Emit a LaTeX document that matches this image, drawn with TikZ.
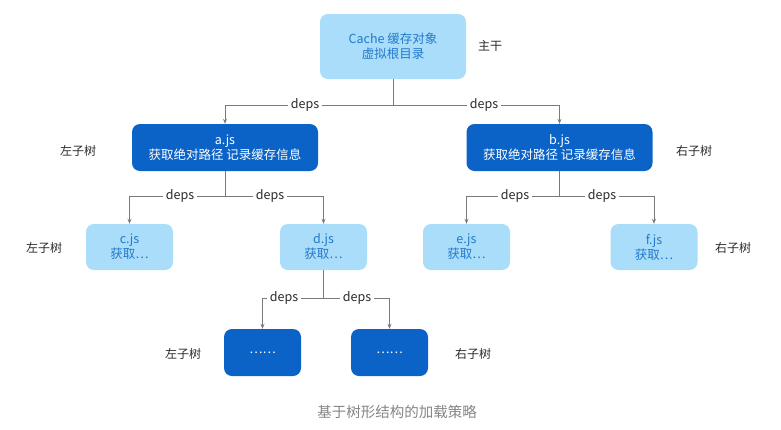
\documentclass[tikz,border=0pt]{standalone}
\usepackage{fontspec}
\setmainfont{Noto Sans CJK SC}
\usetikzlibrary{arrows.meta}
\definecolor{lightbox}{HTML}{A9DDF9}
\definecolor{lighttext}{HTML}{2479CC}
\definecolor{darkbox}{HTML}{0B63C8}
\definecolor{linegray}{HTML}{7A7A7A}
\definecolor{labeltext}{HTML}{2A2A2A}
\definecolor{captiongray}{HTML}{858585}
\begin{document}
\begin{tikzpicture}[x=1pt,y=-1pt,
  lightnode/.style={draw=none,fill=lightbox,rounded corners=8pt,text=lighttext,align=center,font=\fontsize{12.5}{15}\selectfont,inner sep=0pt},
  darknode/.style={draw=none,fill=darkbox,rounded corners=8pt,text=white,align=center,font=\fontsize{12.5}{15}\selectfont,inner sep=0pt},
  side/.style={text=labeltext,font=\fontsize{12}{14}\selectfont},
  deplabel/.style={fill=white,text=labeltext,font=\fontsize{12.5}{14}\selectfont,inner sep=3pt},
  conn/.style={draw=linegray,line width=1pt},
  arr/.style={conn,-{Stealth[length=5pt,width=4pt]}}
]
\useasboundingbox (0,0) rectangle (781,429);
% nodes
\node[lightnode,minimum width=146pt,minimum height=65pt] (root) at (393,46.5) {Cache 缓存对象\\虚拟根目录};
\node[side] (rootlab) at (490,46) {主干};
\node[darknode,minimum width=186pt,minimum height=47pt] (a) at (225,147.5) {a.js\\获取绝对路径 记录缓存信息};
\node[darknode,minimum width=186pt,minimum height=47pt] (b) at (559.5,147.5) {b.js\\获取绝对路径 记录缓存信息};
\node[side] (alab) at (78,151) {左子树};
\node[side] (blab) at (694,151) {右子树};
\node[lightnode,minimum width=87pt,minimum height=46pt] (c) at (129.5,247) {c.js\\获取…};
\node[lightnode,minimum width=87pt,minimum height=46pt] (d) at (323.5,247) {d.js\\获取…};
\node[lightnode,minimum width=87pt,minimum height=46pt] (e) at (466.5,247) {e.js\\获取…};
\node[lightnode,minimum width=87pt,minimum height=46pt] (f) at (654,247) {f.js\\获取…};
\node[side] (clab) at (44,248) {左子树};
\node[side] (flab) at (733,248) {右子树};
\node[darknode,minimum width=77pt,minimum height=47pt] (g) at (262.5,352.5) {……};
\node[darknode,minimum width=77pt,minimum height=47pt] (h) at (389.5,352.5) {……};
\node[side] (glab) at (183,354) {左子树};
\node[side] (hlab) at (473,354) {右子树};
\node[text=captiongray,font=\fontsize{14.5}{16}\selectfont] (cap) at (397,412) {基于树形结构的加载策略};
% junction coordinates
\coordinate (j0) at (393,105);
\coordinate (j1) at (225,196);
\coordinate (j2) at (559.5,196);
\coordinate (j3) at (323.5,298);
% root connectors
\draw[conn] (root.south) -- (j0);
\draw[arr] (j0) -| (a.north);
\draw[arr] (j0) -| (b.north);
\node[deplabel] at (305,105) {deps};
\node[deplabel] at (484,105) {deps};
% a connectors
\draw[conn] (a.south) -- (j1);
\draw[arr] (j1) -| (c.north);
\draw[arr] (j1) -| (d.north);
\node[deplabel] at (180,196) {deps};
\node[deplabel] at (270,196) {deps};
% b connectors
\draw[conn] (b.south) -- (j2);
\draw[arr] (j2) -| (e.north);
\draw[arr] (j2) -| (f.north);
\node[deplabel] at (515,196) {deps};
\node[deplabel] at (602,196) {deps};
% d connectors
\draw[conn] (d.south) -- (j3);
\draw[arr] (j3) -| (g.north);
\draw[arr] (j3) -| (h.north);
\node[deplabel] at (284,298) {deps};
\node[deplabel] at (357,298) {deps};
\end{tikzpicture}
\end{document}
